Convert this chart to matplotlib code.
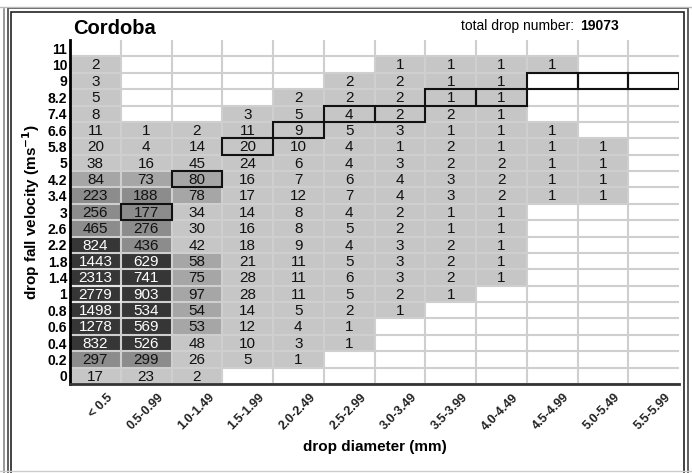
import numpy as np
import matplotlib.pyplot as plt
from matplotlib.patches import Rectangle
from matplotlib.lines import Line2D

plt.rcParams['font.family'] = ['Liberation Sans', 'DejaVu Sans']

# clases de velocidad de caída (de abajo hacia arriba) y de diámetro
velocities = ["0", "0.2", "0.4", "0.6", "0.8", "1", "1.4", "1.8", "2.2", "2.6", "3",
              "3.4", "4.2", "5", "5.8", "6.6", "7.4", "8.2", "9", "10", "11"]
diameters = ["< 0.5", "0.5-0.99", "1.0-1.49", "1.5-1.99", "2.0-2.49", "2.5-2.99",
             "3.0-3.49", "3.5-3.99", "4.0-4.49", "4.5-4.99", "5.0-5.49", "5.5-5.99"]

# número de gotas por clase (fila = velocidad, columna = diámetro), 0 = vacío
counts = [
    [17, 23, 2, 0, 0, 0, 0, 0, 0, 0, 0, 0],
    [297, 299, 26, 5, 1, 0, 0, 0, 0, 0, 0, 0],
    [832, 526, 48, 10, 3, 1, 0, 0, 0, 0, 0, 0],
    [1278, 569, 53, 12, 4, 1, 0, 0, 0, 0, 0, 0],
    [1498, 534, 54, 14, 5, 2, 1, 0, 0, 0, 0, 0],
    [2779, 903, 97, 28, 11, 5, 2, 1, 0, 0, 0, 0],
    [2313, 741, 75, 28, 11, 6, 3, 2, 1, 0, 0, 0],
    [1443, 629, 58, 21, 11, 5, 3, 2, 1, 0, 0, 0],
    [824, 436, 42, 18, 9, 4, 3, 2, 1, 0, 0, 0],
    [465, 276, 30, 16, 8, 5, 2, 1, 1, 0, 0, 0],
    [256, 177, 34, 14, 8, 4, 2, 1, 1, 0, 0, 0],
    [223, 188, 78, 17, 12, 7, 4, 3, 2, 1, 1, 0],
    [84, 73, 80, 16, 7, 6, 4, 3, 2, 1, 1, 0],
    [38, 16, 45, 24, 6, 4, 3, 2, 2, 1, 1, 0],
    [20, 4, 14, 20, 10, 4, 1, 2, 1, 1, 1, 0],
    [11, 1, 2, 11, 9, 5, 3, 1, 1, 1, 0, 0],
    [8, 0, 0, 3, 5, 4, 2, 2, 1, 0, 0, 0],
    [5, 0, 0, 0, 2, 2, 2, 1, 1, 0, 0, 0],
    [3, 0, 0, 0, 0, 2, 2, 1, 1, 0, 0, 0],
    [2, 0, 0, 0, 0, 0, 1, 1, 1, 1, 0, 0],
    [0, 0, 0, 0, 0, 0, 0, 0, 0, 0, 0, 0],
]
# velocidad marcada (recuadro) para cada clase de diámetro
marked_velocity = ["1", "3", "4.2", "5.8", "6.6", "7.4", "7.4", "8.2", "8.2", "9", "9", "9"]
site = "Cordoba"
total_drops = 19073

counts = np.array(counts)
nrow, ncol = counts.shape

def cell_color(n):
    if n == 0:
        return 'white'
    if n < 50:
        return '#c6c6c6'
    if n < 100:
        return '#a6a6a6'
    if n < 500:
        return '#8c8c8c'
    return '#363636'

W, H = 692, 473
fig = plt.figure(figsize=(W / 100, H / 100), dpi=100)
ax = fig.add_axes([70 / W, 1 - 384 / H, 609 / W, 344 / H])
ax.set_xlim(0, ncol)
ax.set_ylim(0, nrow)

for r in range(nrow):
    for c in range(ncol):
        n = counts[r, c]
        ax.add_patch(Rectangle((c, r), 1, 1, facecolor=cell_color(n), edgecolor='none', zorder=1))
        if n > 0:
            ax.text(c + 0.5, r + 0.45, str(n), ha='center', va='center', fontsize=11,
                    color='white' if n >= 500 else '#111111', zorder=4)

# rejilla
for r in range(nrow):
    ax.plot([0, ncol], [r, r], color='#cfcfcf', lw=1.5, zorder=2, solid_capstyle='butt')
for c in range(1, ncol):
    ax.plot([c, c], [0, nrow], color='#cfcfcf', lw=1.5, zorder=2, solid_capstyle='butt')

# recuadros de la velocidad marcada
for c, v in enumerate(marked_velocity):
    r = velocities.index(v)
    ec = '#e6e6e6' if counts[r, c] >= 500 else '#111111'
    ax.add_patch(Rectangle((c, r), 1, 1, facecolor='none', edgecolor=ec, lw=1.5, zorder=3))

for s in ['top', 'right']:
    ax.spines[s].set_visible(False)
ax.spines['left'].set_linewidth(2)
ax.spines['bottom'].set_linewidth(2)
ax.spines['bottom'].set_color('#333333')
ax.spines['left'].set_zorder(5)
ax.spines['bottom'].set_zorder(5)

ax.set_yticks(np.arange(nrow) + 0.5)
ax.set_yticklabels(velocities, fontsize=10, fontweight='bold')
ax.tick_params(axis='y', length=0, pad=2)
ax.set_xticks([])
for c, lab in enumerate(diameters):
    ax.text(c + 0.72, -0.45, lab, rotation=45, rotation_mode='anchor', ha='right', va='top',
            fontsize=9, fontweight='bold', color='#222222')

ax.set_xlabel("drop diameter (mm)", fontsize=11, fontweight='bold', labelpad=40)
ax.set_ylabel("drop fall velocity (ms$^{\\mathbf{-1}}$)", fontsize=11, fontweight='bold', labelpad=4)

fig.text(73 / W, 1 - 28 / H, site, fontsize=14.5, fontweight='bold', va='center', ha='left')
fig.text(578 / W, 1 - 26 / H, "total drop number: ", fontsize=10, va='center', ha='right')
fig.text(580 / W, 1 - 26 / H, str(total_drops), fontsize=10, fontweight='bold', va='center', ha='left')

# marco de la figura
fig.add_artist(Line2D([4 / W, 4 / W], [0, 1 - 9 / H], color='#888888', lw=1.2))
fig.add_artist(Line2D([0, 1], [1 - 7 / H, 1 - 7 / H], color='#bbbbbb', lw=1))
fig.add_artist(Rectangle((8 / W, -0.05), 680 / W, 1.05 - 8 / H, transform=fig.transFigure,
                         facecolor='none', edgecolor='#444444', lw=1.2))
fig.add_artist(Rectangle((11.5 / W, -0.05), 672 / W, 1.05 - 12 / H, transform=fig.transFigure,
                         facecolor='none', edgecolor='#222222', lw=1.2))
fig.add_artist(Line2D([0, 1], [1 - 471 / H, 1 - 471 / H], color='#cccccc', lw=1))

fig.savefig("out.png", dpi=100)
